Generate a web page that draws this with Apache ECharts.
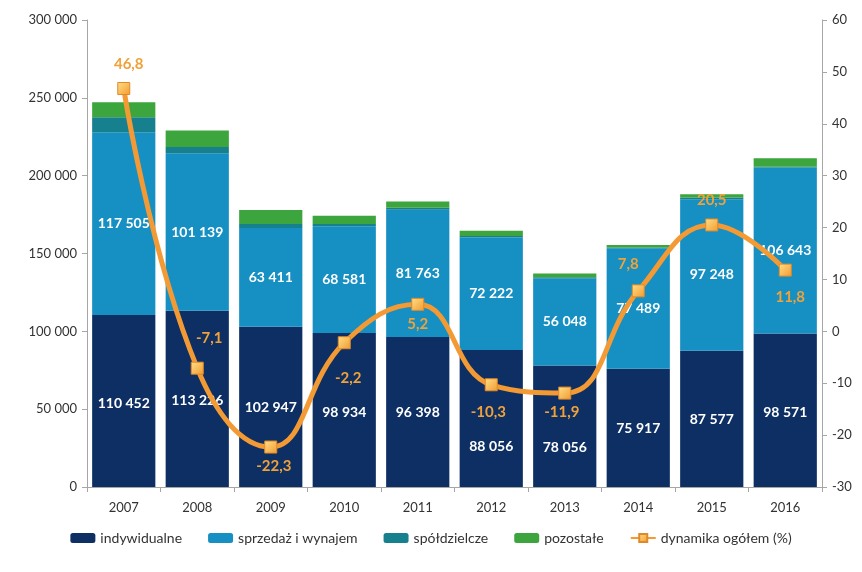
<!DOCTYPE html>
<html>
<head>
<meta charset="utf-8">
<script src="https://cdn.jsdelivr.net/npm/echarts@6/dist/echarts.min.js"></script>
<style>html,body{margin:0;padding:0;background:#fff;}#c{width:862px;height:572px;}</style>
</head>
<body>
<div id="c"></div>
<script>
const years = ['2007','2008','2009','2010','2011','2012','2013','2014','2015','2016'];
const indywidualne = [110452, 113226, 102947, 98934, 96398, 88056, 78056, 75917, 87577, 98571];
const sprzedaz = [117505, 101139, 63411, 68581, 81763, 72222, 56048, 77489, 97248, 106643];
const spoldzielcze = [9500, 4000, 2600, 1400, 1200, 1000, 600, 500, 1200, 500];
const pozostale = [9700, 10700, 9000, 5300, 4000, 3300, 2500, 1500, 2100, 5400];
const dynamika = [46.8, -7.1, -22.3, -2.2, 5.2, -10.3, -11.9, 7.8, 20.5, 11.8];
const leftTicks = [0, 50000, 100000, 150000, 200000, 250000, 300000];
const rightTicks = [-30, -20, -10, 0, 10, 20, 30, 40, 50, 60];

// label placement (style only)
const dynOffsets = [[5,-24],[12,-30],[3,19],[4,35],[0,20],[-3,27],[-3,19],[-10,-27],[0,-25],[5,27]];
const indOffsets = [[0,2],[0,2],[0,1],[0,2],[0,1],[0,28],[0,21],[0,1],[0,1],[0,2]];

const FONT = 'Lato, "Open Sans", sans-serif';
const fmt = n => String(n).replace(/\B(?=(\d{3})+(?!\d))/g, ' ');
const fmtDec = v => String(v).replace('.', ',');

const chart = echarts.init(document.getElementById('c'), null, {renderer: 'canvas'});
const barLabel = {show: true, position: 'inside', color: '#fff', fontWeight: 'bold', fontSize: 14, fontFamily: FONT,
  formatter: p => fmt(p.value)};

chart.setOption({
  animation: false,
  textStyle: {fontFamily: FONT},
  grid: {left: 87, right: 40, top: 20, bottom: 85},
  legend: {
    bottom: 22, left: 'center', itemWidth: 25, itemHeight: 10, itemGap: 26,
    textStyle: {fontSize: 14, color: '#333', fontFamily: FONT},
    data: ['indywidualne', 'sprzedaż i wynajem', 'spółdzielcze', 'pozostałe', 'dynamika ogółem (%)']
  },
  xAxis: {
    type: 'category', data: years,
    axisLine: {lineStyle: {color: '#a6a6a6'}},
    axisTick: {show: true, alignWithLabel: false, length: 5, lineStyle: {color: '#a6a6a6'}},
    axisLabel: {color: '#333', fontSize: 13, margin: 14}
  },
  yAxis: [{
    type: 'value', min: 0, max: 300000, interval: 50000,
    axisLine: {show: true, lineStyle: {color: '#a6a6a6'}},
    axisTick: {show: true, length: 5, lineStyle: {color: '#a6a6a6'}},
    splitLine: {show: false},
    axisLabel: {color: '#333', fontSize: 13, margin: 10, formatter: v => fmt(v)}
  }, {
    type: 'value', min: -30, max: 60, interval: 10,
    axisLine: {show: true, lineStyle: {color: '#a6a6a6'}},
    axisTick: {show: true, length: 5, lineStyle: {color: '#a6a6a6'}},
    splitLine: {show: false},
    axisLabel: {color: '#333', fontSize: 13, margin: 10}
  }],
  series: [
    {name: 'indywidualne', type: 'bar', stack: 's', barCategoryGap: '14%',
      itemStyle: {color: '#0e2f63'},
      data: indywidualne.map((v, i) => ({value: v, label: {offset: indOffsets[i]}})),
      label: barLabel},
    {name: 'sprzedaż i wynajem', type: 'bar', stack: 's',
      itemStyle: {color: '#168fc2'}, data: sprzedaz, label: barLabel},
    {name: 'spółdzielcze', type: 'bar', stack: 's',
      itemStyle: {color: '#17808e'}, data: spoldzielcze},
    {name: 'pozostałe', type: 'bar', stack: 's',
      itemStyle: {color: '#3ca53d'}, data: pozostale},
    {name: 'dynamika ogółem (%)', type: 'line', yAxisIndex: 1, smooth: 0.45, z: 5,
      symbol: 'rect', symbolSize: 12,
      lineStyle: {color: '#f39a34', width: 5},
      itemStyle: {
        color: new echarts.graphic.LinearGradient(0, 0, 1, 1, [{offset: 0, color: '#ffe08a'}, {offset: 1, color: '#f29a2e'}]),
        borderColor: '#e0892a', borderWidth: 1
      },
      data: dynamika.map((v, i) => ({value: v, label: {offset: dynOffsets[i]}})),
      label: {show: true, position: 'inside', color: '#f0a23a', fontWeight: 'bold', fontSize: 15, fontFamily: FONT,
        formatter: p => fmtDec(p.value)}
    }
  ]
});
</script>
</body>
</html>
